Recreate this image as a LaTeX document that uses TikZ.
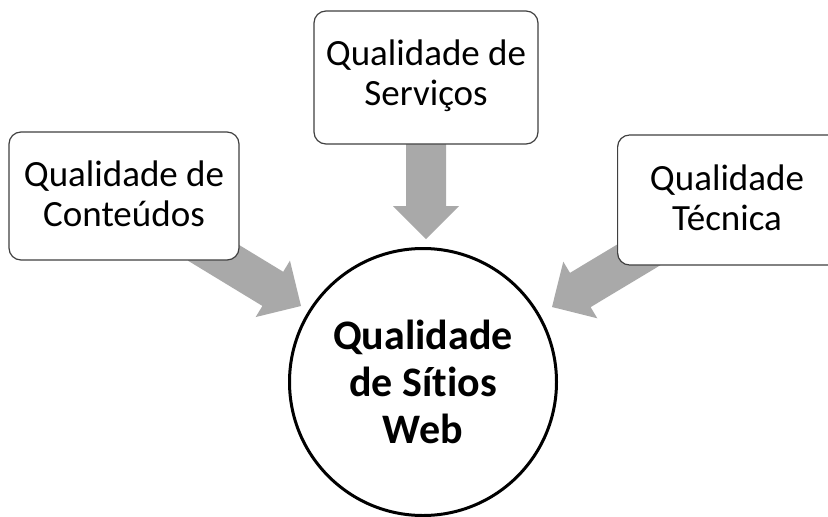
\documentclass[tikz,border=0pt]{standalone}
\usepackage{fontspec}
\setmainfont{Carlito}[Ligatures=NoCommon]
\definecolor{arrowgray}{HTML}{A9A9A9}
\definecolor{boxline}{HTML}{404040}
\tikzset{
  qbox/.style={draw=boxline, line width=1.2pt, fill=white, rounded corners=12pt, inner sep=0pt},
  qtext/.style={align=center, font=\fontsize{37}{40}\selectfont, inner sep=0pt},
  fatarrow/.pic={\fill[arrowgray] (-#1,-20) -- (-33,-20) -- (-33,-33) -- (0,0) -- (-33,33) -- (-33,20) -- (-#1,20) -- cycle;}
}
\begin{document}
\begin{tikzpicture}[x=1pt,y=-1pt]
\useasboundingbox (0,0) rectangle (828,517);
\clip (0,0) rectangle (828,517);
\fill[white] (0,0) rectangle (828,517);
% arrow tips
\coordinate (tipT) at (426,239);
\coordinate (tipL) at (301,306);
\coordinate (tipR) at (552,307);
\pic[rotate=-90] at (tipT) {fatarrow=110};
\pic[rotate=-31.3] at (tipL) {fatarrow=120};
\pic[rotate=211] at (tipR) {fatarrow=120};
% boxes
\node[qbox, minimum width=230pt, minimum height=128pt] (left) at (124,196) {};
\node[qtext] (leftt) at ([yshift=2pt]left.center) {Qualidade de\\Conteúdos};
\node[qbox, minimum width=224pt, minimum height=133pt] (top) at (426,77.5) {};
\node[qtext] (topt) at ([yshift=2pt]top.center) {Qualidade de\\Serviços};
\node[qbox, minimum width=250pt, minimum height=130pt, anchor=west] (right) at (617,200) {};
\node[qtext] (rightt) at (727,198) {Qualidade\\Técnica};
% circle
\node[circle, draw=black, line width=3pt, fill=white, minimum size=267pt, inner sep=0pt] (web) at (423,382) {};
\node[align=center, inner sep=0pt, font=\bfseries\fontsize{42}{47}\selectfont] (webt) at (web.center) {Qualidade\\de Sítios\\Web};
\end{tikzpicture}
\end{document}
